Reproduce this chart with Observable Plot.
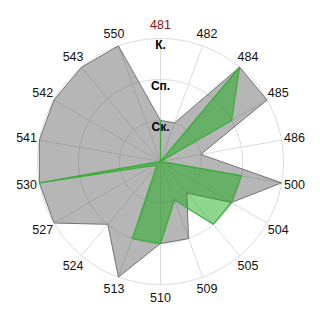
<!DOCTYPE html>
<html><head><meta charset="utf-8">
<script src="https://cdn.jsdelivr.net/npm/d3@7"></script>
<script src="https://cdn.jsdelivr.net/npm/@observablehq/plot@0.6"></script>
<style>html,body{margin:0;padding:0;background:#fff}</style>
</head><body><div id="chart"></div>
<script>
// Categories (clockwise from the top)
const categories = ["481","482","484","485","486","500","504","505","509","510","513","524","527","530","541","542","543","550"];
// Series values (0 = centre, 1 = Ск., 2 = Сп., 3 = К.)
const seriesGray  = [1,1,3,3,1,3,2,1,2,2,3,2,3,3,3,3,3,3];
const seriesGreen = [1,0,3,2,0,2,2,2,1,2,2,0.15,0.2,3,0,0,0,0];
// Ring levels and their labels
const levelValues = [1,2,3];
const levelLabels = ["Ск.","Сп.","К."];
const highlighted = "481";

const K = 1;                 // degrees of latitude per unit
const maxV = 3;
const outerPx = 123;         // outer ring radius in pixels
const framePx = 159;         // half of the frame
const step = 360 / categories.length;
const lon = c => 180 - categories.indexOf(c) * step;
const lat = v => 90 - v * K;
const rows = vals => { const r = categories.map((c, i) => ({c, v: vals[i]})); r.push(r[0]); return r; };

const chart = Plot.plot({
  width: 320, height: 320,
  marginTop: 2, marginBottom: 0, marginLeft: 0, marginRight: 0,
  projection: {type: "azimuthal-equidistant", rotate: [0, -90],
    domain: d3.geoCircle().center([0, 90]).radius(maxV * K * framePx / outerPx)()},
  style: {fontFamily: "'Liberation Sans', Arial, sans-serif", fontSize: "12.5px", background: "#fff"},
  marks: [
    Plot.geo(levelValues, {geometry: v => d3.geoCircle().center([0, 90]).radius(v * K)(), fill: "none", stroke: "#dcdcdc", strokeWidth: 1}),
    Plot.link(categories, {x1: lon, y1: lat(maxV), x2: lon, y2: 90, stroke: "#dcdcdc", strokeWidth: 1}),
    Plot.line(rows(seriesGray), {x: d => lon(d.c), y: d => lat(d.v), fill: "#505050", fillOpacity: 0.42, stroke: "#737373", strokeWidth: 1}),
    Plot.line(rows(seriesGreen), {x: d => lon(d.c), y: d => lat(d.v), fill: "#12a812", fillOpacity: 0.47, stroke: "#3cae3c", strokeWidth: 1.3}),
    Plot.text(categories, {x: lon, y: lat(maxV * 136 / outerPx), text: d => d,
      fill: d => d === highlighted ? "#8b1010" : "#111"}),
    Plot.text(levelValues, {x: 180, y: v => lat(v - 7 / 41), text: (v, i) => levelLabels[i],
      fontWeight: "bold", fontSize: 12, fill: "#000"})
  ]
});
document.getElementById("chart").appendChild(chart);
</script>
</body></html>
